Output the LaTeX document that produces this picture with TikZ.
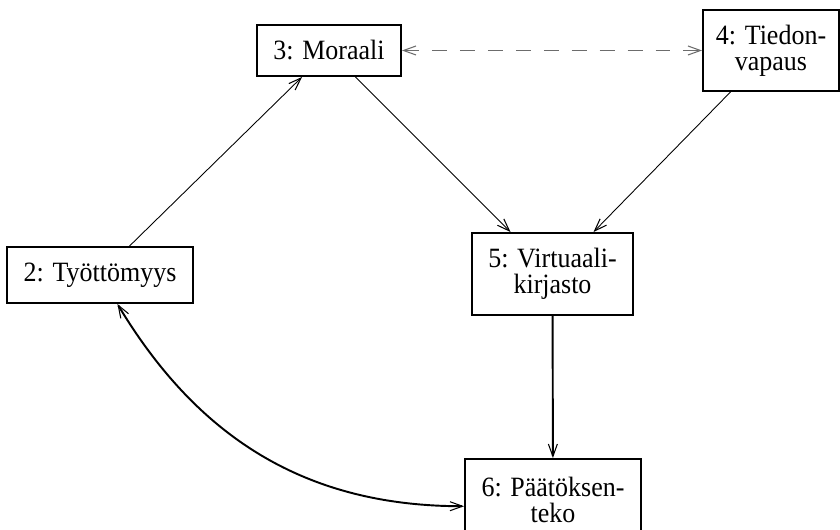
\documentclass[tikz,border=0pt]{standalone}
\usepackage{fontspec}
\setmainfont{Liberation Serif}[FakeStretch=0.93]
\usepackage{tikz}
\usetikzlibrary{arrows.meta,positioning,calc}

\begin{document}
\begin{tikzpicture}[>={Straight Barb[length=2.5mm,width=1.8mm,line width=0.6pt]},
  box/.style={draw, line width=1.1pt, align=center, inner sep=0pt,
    font=\fontsize{15.9}{15}\selectfont},
  link/.style={->, line width=0.5pt},
  strong/.style={->, line width=1.1pt}]
\useasboundingbox (0,0) rectangle (16.8,10.6);
\node[box, minimum width=2.88cm, minimum height=1.02cm] (n3) at (6.58,9.59) {3: Moraali};
\node[box, minimum width=2.72cm, minimum height=1.62cm] (n4) at (15.42,9.59) {4: Tiedon-\\vapaus};
\node[box, minimum width=3.72cm, minimum height=1.12cm] (n2) at (2.0,5.10) {2: Työttömyys};
\node[box, minimum width=3.22cm, minimum height=1.64cm] (n5) at (11.05,5.12) {5: Virtuaali-\\kirjasto};
\node[box, minimum width=3.52cm, minimum height=1.64cm] (n6) at (11.06,0.60) {6: Päätöksen-\\teko};
\draw[link] (n2) -- (n3);
\draw[link] (n3) -- (n5);
\draw[link] (n4) -- (n5);
\draw[<->, gray!85!black, line width=0.8pt, dash pattern=on 8.5pt off 7.4pt] (n3) -- (n4);
\draw[strong] (n5) -- (n6);
\draw[<->, line width=1.1pt] (n6.184) to[out=180, in=-59] (n2.-59);
\end{tikzpicture}
\end{document}
